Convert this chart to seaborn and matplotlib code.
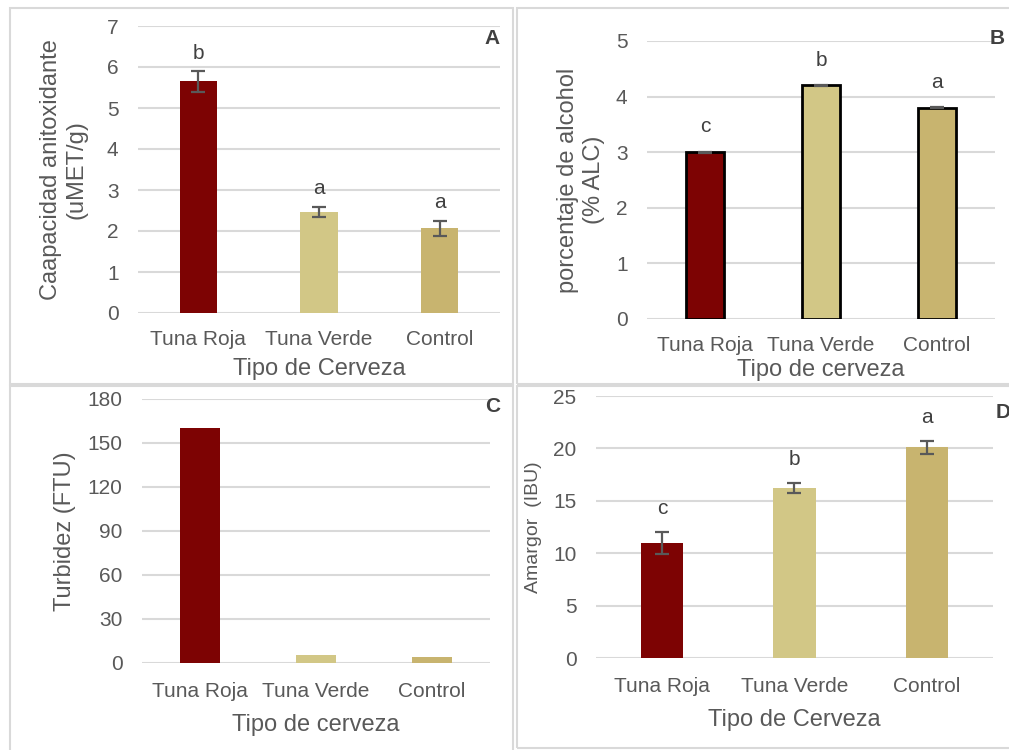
import matplotlib
matplotlib.use("Agg")
import matplotlib.pyplot as plt
import seaborn as sns
from matplotlib.patches import Rectangle

categorias = ['Tuna Roja', 'Tuna Verde', 'Control']

antiox = [5.65, 2.47, 2.07]
antiox_err = [0.25, 0.12, 0.18]
antiox_letras = ['b', 'a', 'a']

alcohol = [3.0, 4.2, 3.8]
alcohol_err = [0.01, 0.01, 0.01]
alcohol_letras = ['c', 'b', 'a']

turbidez = [160, 5.5, 3.8]

amargor = [11.0, 16.2, 20.1]
amargor_err = [1.05, 0.5, 0.6]
amargor_letras = ['c', 'b', 'a']

colores = ['#7d0303', '#d2c786', '#c8b46f']
gris = '#595959'

sns.set_style('white')
plt.rcParams['font.family'] = ['Liberation Sans', 'DejaVu Sans']
plt.rcParams['text.color'] = gris
plt.rcParams['axes.labelcolor'] = gris
plt.rcParams['xtick.color'] = gris
plt.rcParams['ytick.color'] = gris

W, H = 1009, 750
fig = plt.figure(figsize=(W / 100, H / 100), dpi=100)


def px_axes(l, t, r, b):
    return fig.add_axes([l / W, 1 - b / H, (r - l) / W, (b - t) / H])


def panel(ax, valores, ymax, step, ylabel, xlabel, width,
          err=None, letras=None, pad_letra=7, edge=None, ylab_size=17,
          xpad=10, xlabpad=8):
    sns.barplot(x=categorias, y=valores, hue=categorias, palette=colores,
                legend=False, width=width, ax=ax, saturation=1,
                edgecolor=edge if edge else 'none',
                linewidth=2 if edge else 0)
    ax.set_ylim(0, ymax)
    ax.set_yticks(range(0, ymax + 1, step))
    ax.grid(axis='y', color='#d9d9d9', linewidth=1.5)
    ax.set_axisbelow(True)
    for s in ax.spines.values():
        s.set_visible(False)
    ax.tick_params(axis='both', length=0, labelsize=15)
    ax.tick_params(axis='x', pad=xpad)
    ax.tick_params(axis='y', pad=14)
    ax.set_xlabel(xlabel, fontsize=17, labelpad=xlabpad)
    ax.set_ylabel(ylabel, fontsize=ylab_size, labelpad=8)
    if err is not None:
        ax.errorbar(range(len(valores)), valores, yerr=err, fmt='none',
                    ecolor=gris, elinewidth=1.6, capsize=5, capthick=1.6)
    if letras is not None:
        tops = [v + e for v, e in zip(valores, err)]
        for i, (t, l) in enumerate(zip(tops, letras)):
            ax.annotate(l, (i, t), xytext=(0, pad_letra),
                        textcoords='offset points', ha='center', va='bottom',
                        fontsize=15, color='#404040')
    ax.set_xlim(-0.5, len(categorias) - 0.5)


# A
axA = px_axes(138, 26, 500, 313)
panel(axA, antiox, 7, 1, 'Caapacidad anitoxidante\n(uMET/g)', 'Tipo de Cerveza',
      0.31, err=antiox_err, letras=antiox_letras, pad_letra=6,
      xpad=12, xlabpad=7)
axA.yaxis.labelpad = 14

# B
axB = px_axes(647, 41, 995, 319)
panel(axB, alcohol, 5, 1, 'porcentaje de alcohol\n(% ALC)', 'Tipo de cerveza',
      0.32, err=alcohol_err, letras=alcohol_letras, pad_letra=11,
      edge='black', xpad=12, xlabpad=3)

# C
axC = px_axes(142, 399, 490, 663)
panel(axC, turbidez, 180, 30, 'Turbidez (FTU)', 'Tipo de cerveza',
      0.34, xpad=14, xlabpad=9)

# D
axD = px_axes(596, 396, 993, 658)
panel(axD, amargor, 25, 5, 'Amargor  (IBU)', 'Tipo de Cerveza',
      0.32, err=amargor_err, letras=amargor_letras, pad_letra=10,
      ylab_size=14, xpad=14, xlabpad=9)

# panel letters
for txt, x, y in [('A', 500, 38), ('B', 997, 38), ('C', 493, 407), ('D', 1003, 413)]:
    fig.text(x / W, 1 - y / H, txt, ha='center' if txt != 'A' else 'right',
             va='center', fontsize=15, fontweight='bold', color='#404040')

# panel borders
for l, t, r, b in [(10, 8, 513, 384), (517, 8, 1012, 384),
                   (10, 386, 513, 752), (517, 386, 1012, 748)]:
    fig.add_artist(Rectangle((l / W, 1 - b / H), (r - l) / W, (b - t) / H,
                             transform=fig.transFigure, fill=False,
                             edgecolor='#d9d9d9', linewidth=1.5))

fig.savefig('out.png', dpi=100)
